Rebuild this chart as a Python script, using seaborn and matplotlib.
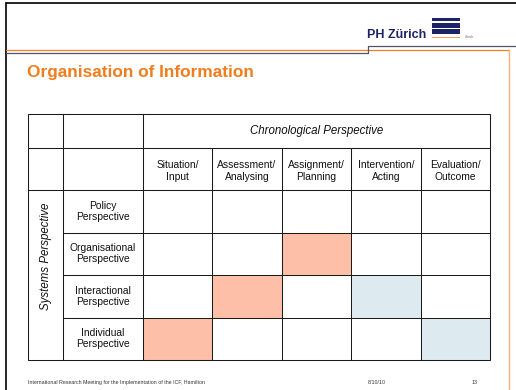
# ==========================================
# Import Libraries
# ==========================================

import numpy as np
import matplotlib
matplotlib.use("Agg")
import matplotlib.pyplot as plt
import seaborn as sns
from matplotlib.colors import ListedColormap
from matplotlib.patches import Rectangle

# ==========================================
# Data
# ==========================================

stage_labels = [
    "Situation/\nInput",
    "Assessment/\nAnalysing",
    "Assignment/\nPlanning",
    "Intervention/\nActing",
    "Evaluation/\nOutcome",
]
level_labels = [
    "Policy\nPerspective",
    "Organisational\nPerspective",
    "Interactional\nPerspective",
    "Individual\nPerspective",
]
# 0 = empty, 1 = salmon, 2 = light blue
cell_codes = [
    [0, 0, 0, 0, 0],
    [0, 0, 1, 0, 0],
    [0, 1, 0, 2, 0],
    [1, 0, 0, 0, 2],
]
col_title = "Chronological Perspective"
row_title = "Systems Perspective"
slide_title = "Organisation of Information"
logo_text = "PH Zürich"
footer_left = "International Research Meeting for the Implementation of the ICF, Hamilton"
footer_date = "8/10/10"
footer_page = "13"

# ==========================================
# Layout (pixels)
# ==========================================

W, H = 516, 390
tbl_left, lab_left, body_left, tbl_right = 28, 63, 143, 490
tbl_top, hdr_mid, body_top, tbl_bottom = 114, 148, 190, 360

orange = "#F07D1E"
navy = "#1B2366"
txt_size = 7.4
line_col = "#1a1a1a"
lw = 0.75

sns.set_style("white")
plt.rcParams["font.family"] = ["Liberation Sans", "DejaVu Sans"]

fig = plt.figure(figsize=(W / 100, H / 100), dpi=100)

# ==========================================
# Heatmap body
# ==========================================

ax = fig.add_axes([body_left / W, 1 - tbl_bottom / H,
                   (tbl_right - body_left) / W, (tbl_bottom - body_top) / H])
sns.heatmap(
    np.array(cell_codes),
    cmap=ListedColormap(["white", "#FDBFA8", "#DDEBF0"]),
    vmin=-0.5, vmax=2.5,
    cbar=False,
    linewidths=0.6,
    linecolor=line_col,
    xticklabels=stage_labels,
    yticklabels=level_labels,
    ax=ax,
)
ax.xaxis.tick_top()
ax.set_xticklabels(stage_labels, rotation=0, va="center", fontsize=txt_size,
                   linespacing=1.15, color="#111111")
ax.set_yticklabels(level_labels, rotation=0, ha="center", va="center",
                   fontsize=txt_size, linespacing=1.15, color="#111111")
ax.tick_params(axis="x", pad=13.7, length=0)
ax.tick_params(axis="y", pad=28.8, length=0)

# ==========================================
# Page overlay
# ==========================================

page = fig.add_axes([0, 0, 1, 1])
page.set_xlim(0, W)
page.set_ylim(H, 0)
page.axis("off")

# slide frame
page.plot([6, W], [3, 3], color="black", lw=1.2)
page.plot([6, 6], [3, H], color="black", lw=1.2)
page.plot([6, 509], [50, 50], color="#F08020", lw=0.9)
page.plot([509, 509], [50, H], color="#F8B070", lw=1.0)
page.plot([6, 368, 368, W], [53, 53, 45.5, 45.5], color="#50566A", lw=0.9)

# logo
page.text(367, 37.5, logo_text, fontsize=9, weight="bold", color=navy, va="baseline")
for y0, h in [(17.5, 3.5), (23, 4.5), (29, 5)]:
    page.add_patch(Rectangle((432, y0), 28, h, color=navy, lw=0))
page.add_patch(Rectangle((432, 36.5), 28, 1, color="#F5A060", lw=0))
page.text(465, 37, "Zürich", fontsize=2.3, color="#666666", va="center")

# title
page.text(27, 73, slide_title, fontsize=12.4, weight="bold", color=orange, va="center")

# table header lines
page.add_patch(Rectangle((tbl_left, tbl_top), tbl_right - tbl_left, tbl_bottom - tbl_top,
                         fill=False, ec=line_col, lw=lw))
page.plot([tbl_left, tbl_right], [hdr_mid, hdr_mid], color=line_col, lw=lw)
page.plot([tbl_left, tbl_right], [body_top, body_top], color=line_col, lw=lw)
page.plot([lab_left, lab_left], [tbl_top, tbl_bottom], color=line_col, lw=lw)
page.plot([body_left, body_left], [tbl_top, tbl_bottom], color=line_col, lw=lw)

col_w = (tbl_right - body_left) / len(stage_labels)
for k in range(1, len(stage_labels)):
    x = body_left + k * col_w
    page.plot([x, x], [hdr_mid, body_top], color=line_col, lw=lw)

row_h = (tbl_bottom - body_top) / len(level_labels)
for k in range(1, len(level_labels)):
    y = body_top + k * row_h
    page.plot([lab_left, body_left], [y, y], color=line_col, lw=lw)

page.text((body_left + tbl_right) / 2, 131, col_title, fontsize=8.3, style="italic",
          ha="center", va="center", color="#111111")
page.text(46, 256, row_title, fontsize=8.3, style="italic", rotation=90,
          ha="center", va="center", color="#111111")

# footer
page.text(28, 382.5, footer_left, fontsize=3.8, color="#333333", va="center")
page.text(377, 382.5, footer_date, fontsize=3.8, color="#333333", va="center", ha="center")
page.text(475, 382.5, footer_page, fontsize=3.8, color="#333333", va="center", ha="center")

fig.savefig("out.png", dpi=100)
